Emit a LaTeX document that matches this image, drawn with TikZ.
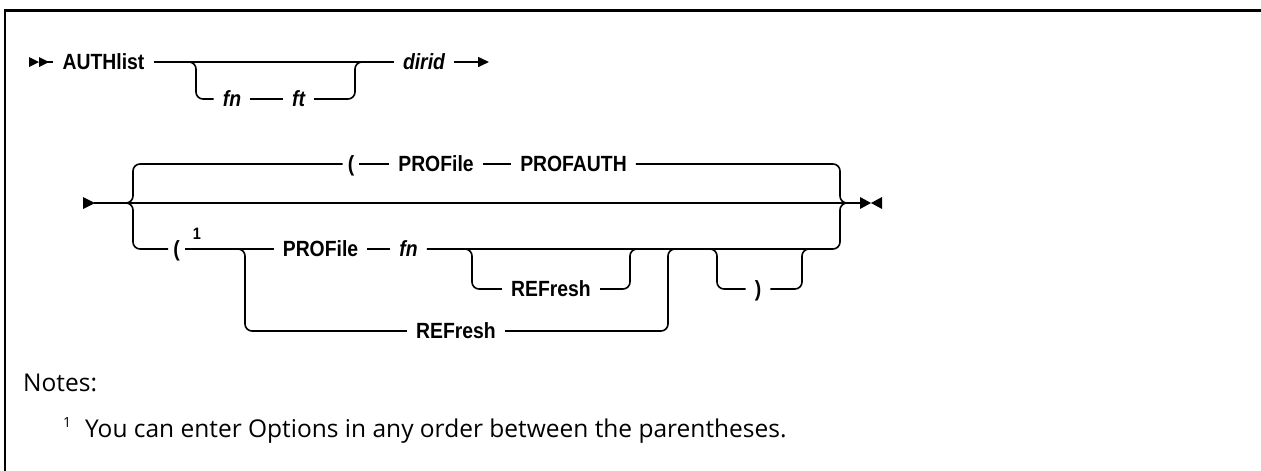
\documentclass[tikz,border=0pt]{standalone}
\usepackage{fontspec}
\setmainfont{Liberation Sans}
\newfontfamily\lblfont{Liberation Sans}[FakeStretch=0.88]
\newfontfamily\notefont{Open Sans}
\usetikzlibrary{arrows.meta}
\begin{document}
\begin{tikzpicture}[x=1pt,y=-1pt,
  rr/.style={line width=1.6pt, rounded corners=7pt},
  ln/.style={line width=1.6pt},
  lbl/.style={font=\lblfont\fontsize{22}{25}\selectfont\bfseries, inner xsep=9pt, inner ysep=0pt, text height=15.7pt, text depth=0pt, anchor=center},
  ilbl/.style={lbl, font=\lblfont\fontsize{22}{25}\selectfont\bfseries\itshape},
  sup/.style={font=\lblfont\fontsize{16.5}{18}\selectfont\bfseries, inner sep=0pt},
  note/.style={font=\notefont\fontsize{24.5}{28}\selectfont, inner sep=0pt, anchor=base west},
  tri/.style={fill=black, draw=none}
]
\useasboundingbox (0,0) rectangle (1261,471);
% frame
\draw[line width=2.6pt] (5,471) -- (5,10.5) -- (1261,10.5);

% ---------- row 1 ----------
\fill[tri] (29,57) -- (39,62) -- (29,67) -- cycle;
\fill[tri] (39,57) -- (49,62) -- (39,67) -- cycle;
\coordinate (s1) at (45,62);
\node[lbl] (auth) at (103.5,62) {AUTHlist};
\node[ilbl] (fn1) at (232,99) {fn};
\node[ilbl] (ft1) at (298.5,99) {ft};
\node[ilbl] (dirid) at (424,62) {dirid};
\coordinate (e1) at (489,62);
\draw[ln] (s1) -- (auth.west);
\draw[ln] (auth.east) -- (dirid.west);
\draw[rr] (188,62) -- (196,62) -- (196,99) -- (fn1.west);
\draw[ln] (fn1.east) -- (ft1.west);
\draw[rr] (ft1.east) -- (355,99) -- (355,62) -- (363,62);
\draw[ln, -{Triangle[length=11pt,width=10pt]}] (dirid.east) -- (e1);

% ---------- row 2 ----------
\fill[tri] (83,197) -- (95,203) -- (83,209) -- cycle;
\coordinate (s2) at (94,203);
\coordinate (e2) at (861,203);
\draw[ln] (s2) -- (e2);
\fill[tri] (860,197) -- (871,203) -- (860,209) -- cycle;
\fill[tri] (882,197) -- (871,203) -- (882,209) -- cycle;

% top branch
\node[lbl, inner xsep=5pt] (tp) at (351,164) {(};
\node[lbl] (tprof) at (436,164) {PROFile};
\node[lbl] (tauth) at (573.5,164) {PROFAUTH};
\draw[rr] (126,203) -- (133,203) -- (133,164) -- (tp.west);
\draw[ln] (tp.east) -- (tprof.west);
\draw[ln] (tprof.east) -- (tauth.west);
\draw[rr] (tauth.east) -- (840,164) -- (840,203) -- (847,203);

% lower branch
\node[lbl, inner xsep=5pt] (lp) at (176.5,249) {(};
\node[sup] (n1) at (197,234) {1};
\node[lbl] (lprof) at (320.5,249) {PROFile};
\node[ilbl] (fn2) at (408.5,249) {fn};
\node[lbl] (ref1) at (551,289) {REFresh};
\node[lbl] (ref2) at (456,331) {REFresh};
\node[lbl] (rp) at (758,289) {)};
\draw[rr] (126,203) -- (133,203) -- (133,249) -- (lp.west);
\draw[ln] (lp.east) -- (lprof.west);
\draw[ln] (lprof.east) -- (fn2.west);
\draw[rr] (fn2.east) -- (840,249) -- (840,203) -- (847,203);
% sub-branch to REFresh alone
\draw[rr] (237,249) -- (245,249) -- (245,331) -- (ref2.west);
\draw[rr] (ref2.east) -- (668,331) -- (668,249) -- (676,249);
% optional REFresh after fn
\draw[rr] (464,249) -- (472,249) -- (472,289) -- (ref1.west);
\draw[rr] (ref1.east) -- (630,289) -- (630,249) -- (638,249);
% optional )
\draw[rr] (709,249) -- (717,249) -- (717,289) -- (rp.west);
\draw[rr] (rp.east) -- (802,289) -- (802,249) -- (810,249);

% ---------- notes ----------
\node[note] (notes) at (23,391) {Notes:};
\node[note, font=\notefont\fontsize{14}{16}\selectfont] (fnum) at (63,427) {1};
\node[note] (fnote) at (85,437) {You can enter Options in any order between the parentheses.};
\end{tikzpicture}
\end{document}
